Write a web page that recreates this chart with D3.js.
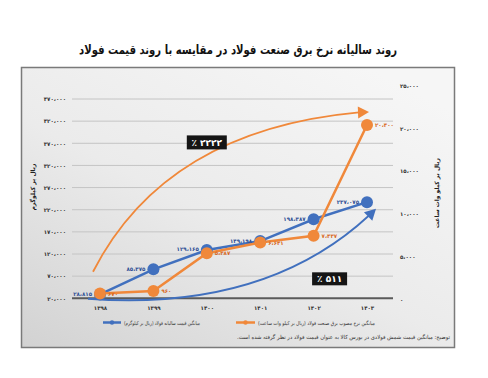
<!DOCTYPE html>
<html><head><meta charset="utf-8">
<script src="https://cdn.jsdelivr.net/npm/d3@7"></script>
<style>
html,body{margin:0;padding:0;background:#fff;}
svg{display:block;font-family:"DejaVu Sans",sans-serif;}
</style></head>
<body>
<svg id="c" width="488" height="378"></svg>
<script>
const years = ["1398","1399","1400","1401","1402","1403"];
const yearLabels = ["۱۳۹۸","۱۳۹۹","۱۴۰۰","۱۴۰۱","۱۴۰۲","۱۴۰۳"];
const steelPrice = [28815, 85375, 129165, 149198, 198387, 237075];
const steelLabels = ["۲۸،۸۱۵","۸۵،۳۷۵","۱۲۹،۱۶۵","۱۴۹،۱۹۸","۱۹۸،۳۸۷","۲۳۷،۰۷۵"];
const powerRate = [670, 960, 5387, 6641, 7437, 20400];
const powerLabels = ["۶۷۰","۹۶۰","۵،۳۸۷","۶،۶۴۱","۷،۴۳۷","۲۰،۴۰۰"];
const leftTicks = [20000,70000,120000,170000,220000,270000,320000,370000,420000,470000];
const leftTickLabels = ["۲۰،۰۰۰","۷۰،۰۰۰","۱۲۰،۰۰۰","۱۷۰،۰۰۰","۲۲۰،۰۰۰","۲۷۰،۰۰۰","۳۲۰،۰۰۰","۳۷۰،۰۰۰","۴۲۰،۰۰۰","۴۷۰،۰۰۰"];
const rightTicks = [0,5000,10000,15000,20000,25000];
const rightTickLabels = ["۰","۵،۰۰۰","۱۰،۰۰۰","۱۵،۰۰۰","۲۰،۰۰۰","۲۵،۰۰۰"];
const title = "روند سالیانه نرخ برق صنعت فولاد در مقایسه با روند قیمت فولاد";
const leftTitle = "ریال بر کیلوگرم";
const rightTitle = "ریال بر کیلو وات ساعت";
const legendSteel = "میانگین قیمت سالیانه فولاد (ریال بر کیلوگرم)";
const legendPower = "میانگین نرخ مصوب برق صنعت فولاد (ریال بر کیلو وات ساعت)";
const footnote = "توضیح: میانگین قیمت شمش فولادی در بورس کالا به عنوان قیمت فولاد در نظر گرفته شده است.";
const growthPower = "٪ ۲۲۲۲";
const growthSteel = "٪ ۵۱۱";

const BLUE = "#4170be", ORANGE = "#f0883a";
const svg = d3.select("#c");
const defs = svg.append("defs");
const g = defs.append("linearGradient").attr("id","bg").attr("x1","0").attr("y1","1").attr("x2","0.8").attr("y2","0");
g.append("stop").attr("offset","0").attr("stop-color","#d2d2d2");
g.append("stop").attr("offset","0.5").attr("stop-color","#ebebeb");
g.append("stop").attr("offset","1").attr("stop-color","#f6f6f6");

// RTL text placed by its visual span [left,right]
function rtlText(sel, left, right, y, size, txt, opts={}){
  const t = sel.append("text").attr("x",(left+right)/2).attr("y",y).attr("text-anchor","middle")
    .attr("direction","rtl").attr("font-size",size).attr("fill",opts.fill||"#333")
    .attr("textLength",right-left).attr("lengthAdjust","spacingAndGlyphs").text(txt);
  if(opts.bold) t.attr("font-weight","bold");
  return t;
}

// title
rtlText(svg, 79, 397, 54, 12.5, title, {bold:true, fill:"#111"});

// panel
svg.append("rect").attr("x",21.5).attr("y",67.5).attr("width",433).attr("height",280)
  .attr("fill","url(#bg)").attr("stroke","#7a7a7a").attr("stroke-width",1.5);

const x = d3.scalePoint().domain(years).range([100,367]);
const yL = d3.scaleLinear().domain([20000,470000]).range([298.3,99]);
const yR = d3.scaleLinear().domain([0,25000]).range([299.3,85.7]);

// gridlines
svg.append("g").selectAll("line").data(leftTicks).join("line")
  .attr("x1",72).attr("x2",393).attr("y1",d=>yL(d)).attr("y2",d=>yL(d))
  .attr("stroke",(d,i)=>i===0?"#5a5a5a":"#c4c4c4").attr("stroke-width",(d,i)=>i===0?2:1);

// left axis
const la = d3.axisLeft(yL).tickValues(leftTicks).tickSize(0).tickPadding(0).tickFormat((d,i)=>leftTickLabels[i]);
svg.append("g").attr("transform","translate(66,0)").call(la)
  .call(s=>s.select(".domain").remove())
  .call(s=>s.selectAll("text").attr("font-size",5.5).attr("font-weight","bold").attr("fill","#333").attr("font-family","DejaVu Sans"));
// right axis
const ra = d3.axisRight(yR).tickValues(rightTicks).tickSize(0).tickPadding(0).tickFormat((d,i)=>rightTickLabels[i]);
svg.append("g").attr("transform","translate(400,0)").call(ra)
  .call(s=>s.select(".domain").remove())
  .call(s=>s.selectAll("text").attr("font-size",5.5).attr("font-weight","bold").attr("fill","#333").attr("font-family","DejaVu Sans"));
// bottom axis
const ba = d3.axisBottom(x).tickSize(0).tickPadding(0).tickFormat((d,i)=>yearLabels[i]);
svg.append("g").attr("transform","translate(0,306)").call(ba)
  .call(s=>s.select(".domain").remove())
  .call(s=>s.selectAll("text").attr("font-size",5.5).attr("font-weight","bold").attr("fill","#333").attr("font-family","DejaVu Sans"));

// axis titles
svg.append("text").attr("transform","translate(35,187) rotate(-90)").attr("text-anchor","middle")
  .attr("font-size",6).attr("font-weight","bold").attr("fill","#222").attr("direction","rtl").text(leftTitle);
svg.append("text").attr("transform","translate(439,193) rotate(-90)").attr("text-anchor","middle")
  .attr("font-size",6).attr("font-weight","bold").attr("fill","#222").attr("direction","rtl").text(rightTitle);

// arrows (annotation curves anchored on scales)
function arrowHead(sel, tip, from, color){
  const ang = Math.atan2(tip[1]-from[1], tip[0]-from[0]);
  const L=11, W=6;
  const bx = tip[0]-L*Math.cos(ang), by = tip[1]-L*Math.sin(ang);
  const px = -Math.sin(ang)*W, py = Math.cos(ang)*W;
  sel.append("path").attr("d",`M${tip[0]},${tip[1]}L${bx+px},${by+py}L${bx-px},${by-py}Z`).attr("fill",color);
}
const oS=[x("1398")-7, yL(80000)], oC=[x("1399")+12, yL(400000)], oE=[x("1403")-8, yL(440000)];
const oTip=[x("1403")+2, yL(440500)];
svg.append("path").attr("d",`M${oS}Q${oC} ${oE}`).attr("fill","none").attr("stroke",ORANGE).attr("stroke-width",1.8);
arrowHead(svg, oTip, [oE[0]-10, oE[1]+0.5], ORANGE);
const bS=[x("1398")-12, yL(19000)], bC=[x("1401")+5, yL(-10000)], bE=[x("1403")+2, yL(207000)];
const bTip=[x("1403")+9, yL(222000)];
svg.append("path").attr("d",`M${bS}Q${bC} ${bE}`).attr("fill","none").attr("stroke",BLUE).attr("stroke-width",1.8);
arrowHead(svg, bTip, [bE[0]-6, bE[1]+6], BLUE);

// growth boxes
function badge(cx, cy, w, h, txt){
  svg.append("rect").attr("x",cx-w/2).attr("y",cy-h/2).attr("width",w).attr("height",h).attr("fill","#151515");
  svg.append("text").attr("x",cx).attr("y",cy+3.3).attr("text-anchor","middle").attr("font-size",9)
    .attr("font-weight","bold").attr("fill","#fff").text(txt);
}
badge(x("1400"), yL(372000), 40, 14, growthPower);
badge(x("1402")+16, yL(64000), 35, 13, growthSteel);

// lines
const lineL = d3.line().x((d,i)=>x(years[i])).y(d=>yL(d));
const lineR = d3.line().x((d,i)=>x(years[i])).y(d=>yR(d));
svg.append("path").datum(steelPrice).attr("d",lineL).attr("fill","none").attr("stroke",BLUE).attr("stroke-width",2.5);
svg.append("path").datum(powerRate).attr("d",lineR).attr("fill","none").attr("stroke",ORANGE).attr("stroke-width",2.5);
svg.append("g").selectAll("circle").data(steelPrice).join("circle")
  .attr("cx",(d,i)=>x(years[i])).attr("cy",d=>yL(d)).attr("r",6).attr("fill",BLUE);
svg.append("g").selectAll("circle").data(powerRate).join("circle")
  .attr("cx",(d,i)=>x(years[i])).attr("cy",d=>yR(d)).attr("r",6).attr("fill",ORANGE);

// data labels
svg.append("g").selectAll("text").data(steelPrice).join("text")
  .attr("x",(d,i)=>x(years[i])-8).attr("y",d=>yL(d)+1.5).attr("text-anchor","end")
  .attr("font-size",5.5).attr("font-weight","bold").attr("fill","#2f4f95").text((d,i)=>steelLabels[i]);
svg.append("g").selectAll("text").data(powerRate).join("text")
  .attr("x",(d,i)=>x(years[i])+8).attr("y",d=>yR(d)+2).attr("text-anchor","start")
  .attr("font-size",5.5).attr("font-weight","bold").attr("fill","#d9691f").text((d,i)=>powerLabels[i]);

// legend
const lg = svg.append("g");
lg.append("line").attr("x1",103).attr("x2",121).attr("y1",322.5).attr("y2",322.5).attr("stroke",BLUE).attr("stroke-width",2.5);
lg.append("circle").attr("cx",112).attr("cy",322.5).attr("r",2.2).attr("fill",BLUE);
rtlText(lg, 124, 200, 324.5, 5.3, legendSteel);
lg.append("line").attr("x1",236).attr("x2",255).attr("y1",322.5).attr("y2",322.5).attr("stroke",ORANGE).attr("stroke-width",2.5);
lg.append("circle").attr("cx",245.5).attr("cy",322.5).attr("r",2.2).attr("fill",ORANGE);
rtlText(lg, 258, 375, 324.5, 5.3, legendPower);

// footnote
rtlText(svg, 237, 450, 339, 5.6, footnote);
</script>
</body></html>
